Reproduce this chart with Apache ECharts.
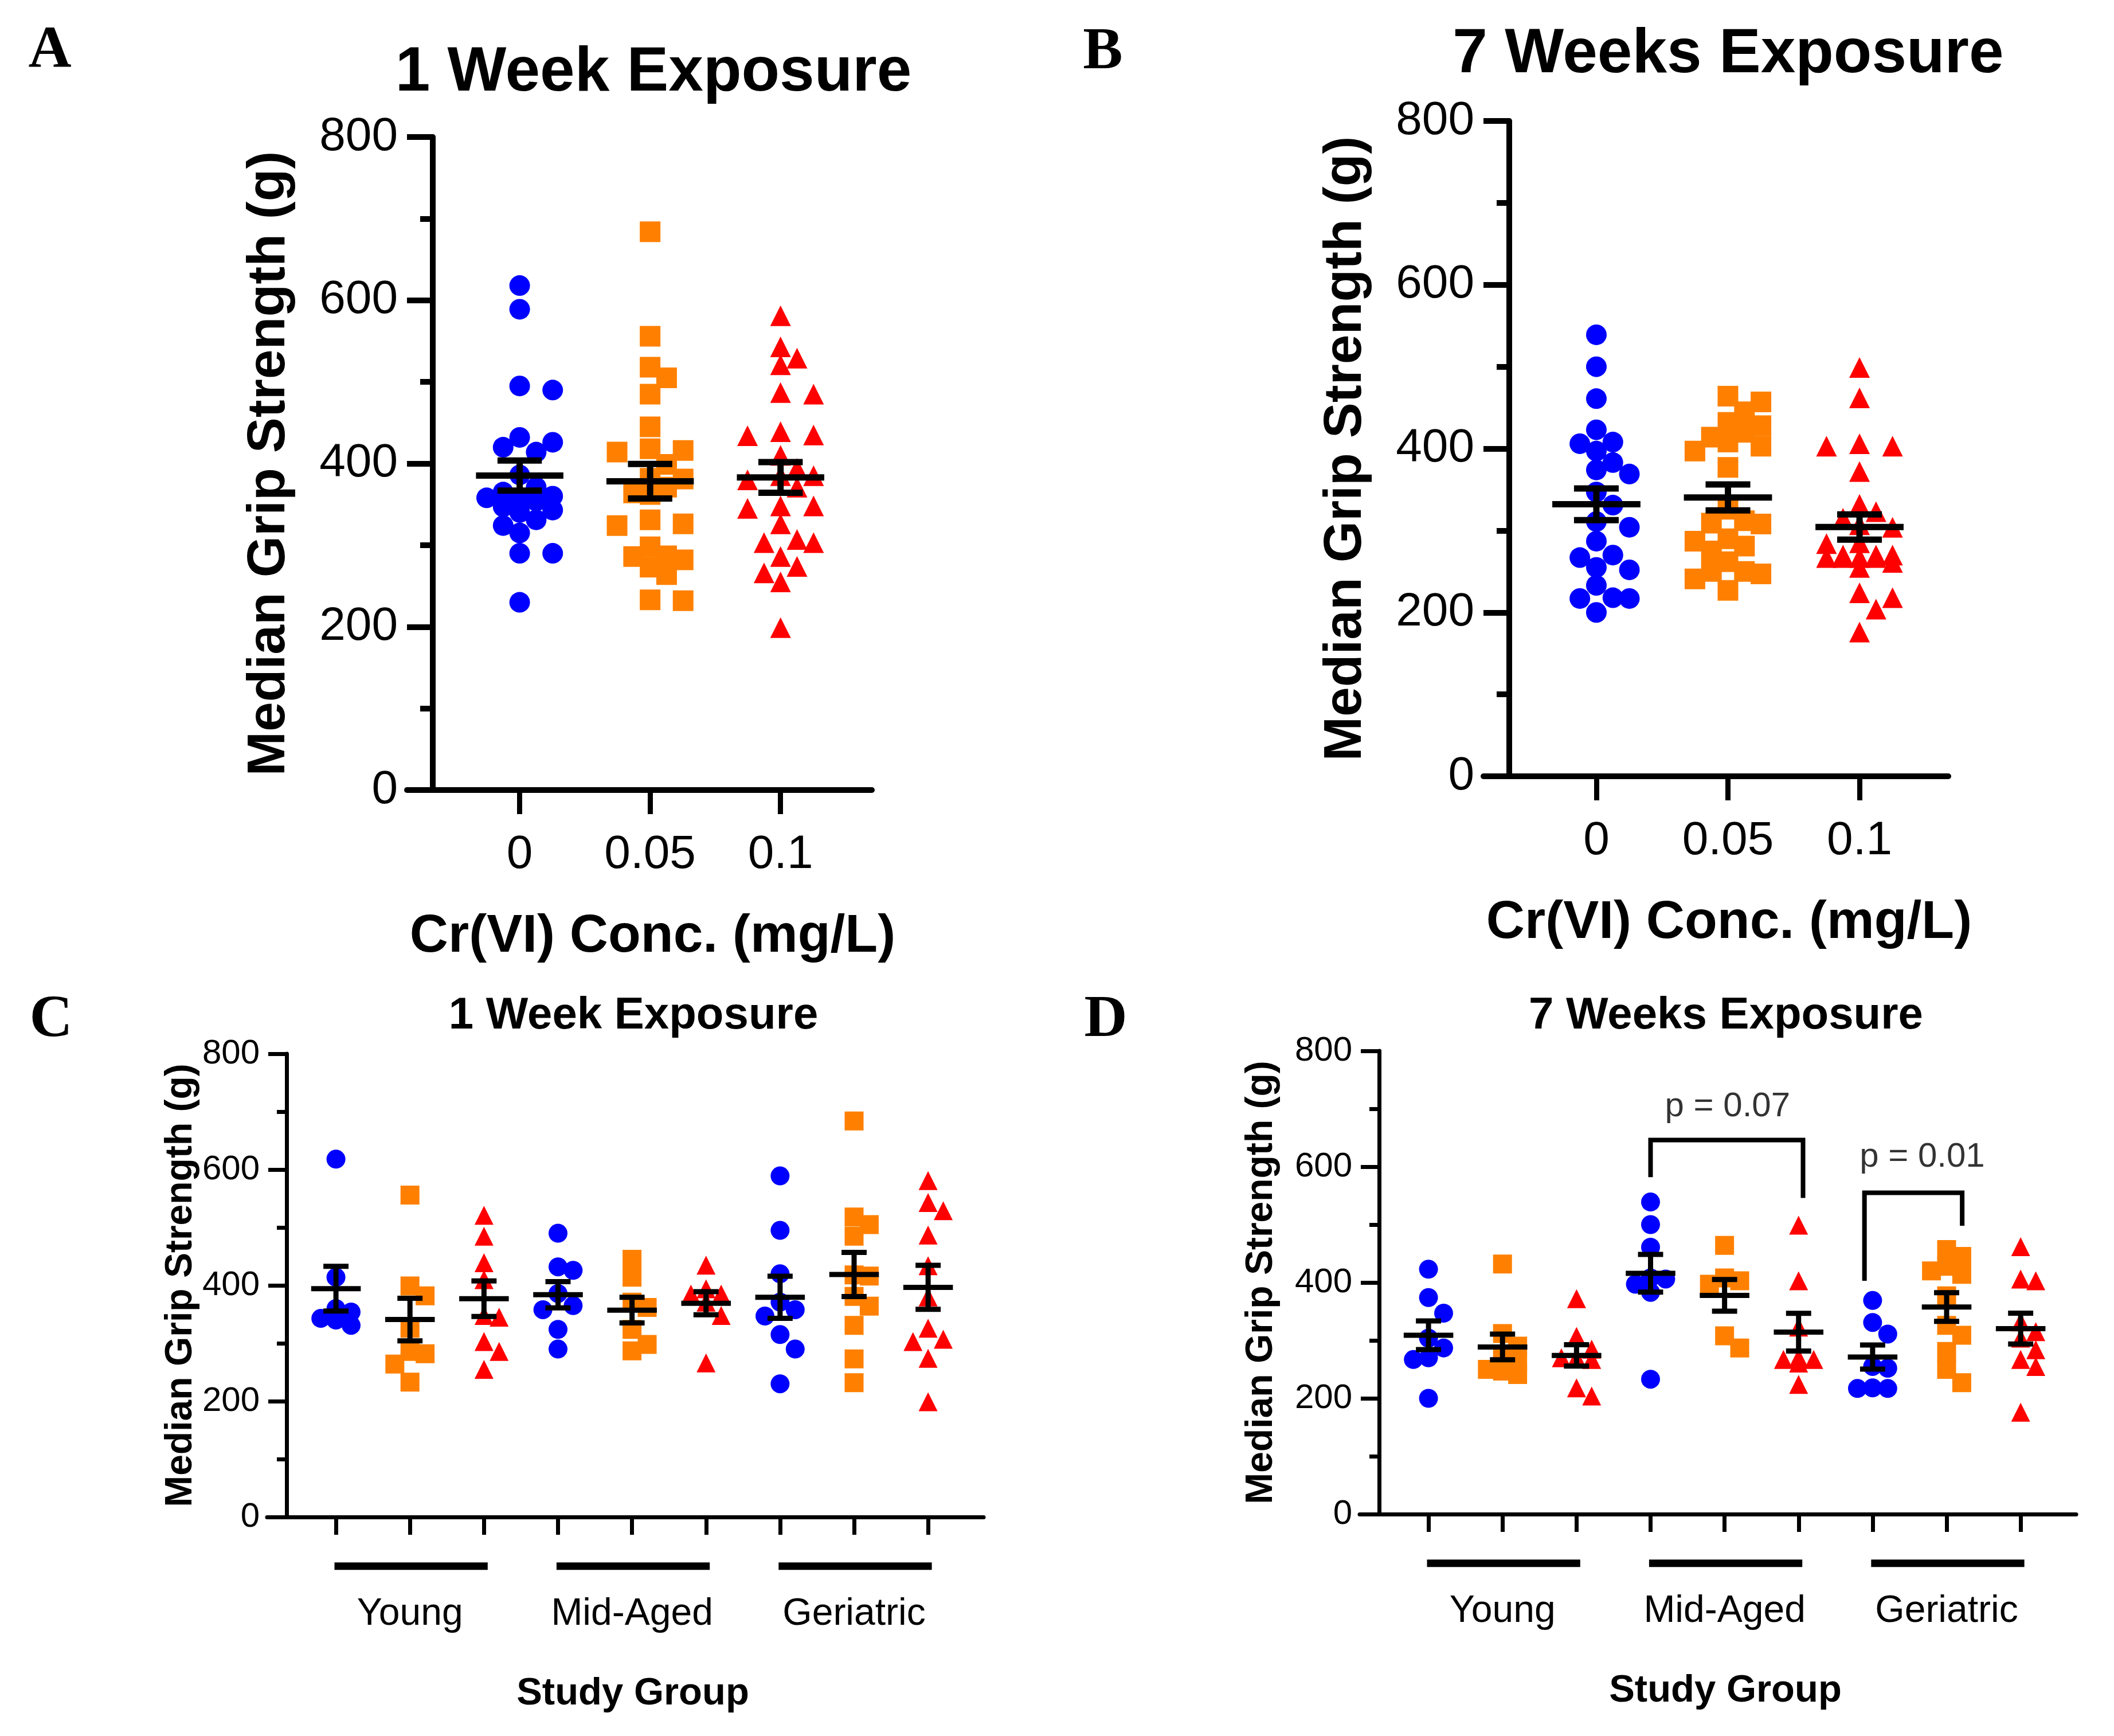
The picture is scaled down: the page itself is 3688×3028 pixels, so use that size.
<!DOCTYPE html>
<html>
<head>
<meta charset="utf-8">
<script src="https://cdn.jsdelivr.net/npm/echarts@6/dist/echarts.min.js"></script>
<style>
  html, body { margin: 0; padding: 0; background: #fff; }
  #chart { width: 3688px; height: 3028px; }
</style>
</head>
<body>
<div id="chart"></div>
<script>
'use strict';

// ---- data ----
const doseLabels = ['0', '0.05', '0.1'];
const ageGroups = ['Young', 'Mid-Aged', 'Geriatric'];

// grip strength (g), one list per Cr(VI) dose: [0, 0.05, 0.1]
const week1Young = [
    [618, 414, 360, 354, 343, 340, 331],
    [556, 399, 382, 326, 286, 282, 264, 233],
    [521, 485, 439, 410, 348, 345, 303, 286, 255]
];
const week1Mid = [
    [490, 432, 426, 386, 365, 358, 324, 290],
    [445, 414, 371, 362, 324, 298, 287],
    [435, 394, 385, 385, 371, 348, 266]
];
const week1Geri = [
    [589, 495, 420, 371, 358, 347, 315, 290, 230],
    [684, 518, 505, 485, 416, 418, 381, 364, 331, 273, 232],
    [581, 543, 529, 487, 434, 380, 326, 307, 303, 274, 199]
];
const week7Young = [
    [423, 374, 347, 304, 287, 267, 270, 200],
    [432, 312, 290, 275, 262, 250, 247, 241],
    [372, 307, 285, 270, 270, 267, 218, 204]
];
const week7Mid = [
    [539, 500, 461, 408, 406, 397, 383, 233],
    [464, 408, 403, 397, 308, 287],
    [499, 403, 323, 267, 270, 261, 267, 224]
];
const week7Geri = [
    [369, 331, 311, 255, 252, 217, 218, 217],
    [457, 445, 428, 420, 414, 377, 326, 309, 281, 250, 227],
    [462, 406, 403, 332, 315, 304, 284, 267, 255, 176]
];

// panel D significance brackets (x = group slot, y = grip value)
const bracket07 = [[3.0, 582], [3.0, 646], [5.06, 646], [5.06, 546]];
const bracket01 = [[5.89, 403], [5.89, 555], [7.21, 555], [7.21, 498]];
const pLabels = [
    { name: 'p = 0.07', value: [4.04, 704] },
    { name: 'p = 0.01', value: [6.67, 616] }
];

// ---- styles ----
const FONT = '"Liberation Sans", Arial, sans-serif';
const doseColors = ['#0000FF', '#FF8000', '#FF0000'];
const doseSymbols = ['circle', 'rect', 'triangle'];

const panels = [
    { grid: { left: 710, top: 239, width: 811, height: 1139 }, xMin: -0.864, xMax: 2.70, yOffset: -45,
      big: true, title: '1 Week Exposure', letter: 'A' },
    { grid: { left: 2588, top: 211, width: 811, height: 1143 }, xMin: -0.858, xMax: 2.675, yOffset: -45,
      big: true, title: '7 Weeks Exposure', letter: 'B' },
    { grid: { left: 466, top: 1838, width: 1250, height: 808 }, xMin: -0.93, xMax: 8.75, yOffset: -34,
      big: false, title: '1 Week Exposure', letter: 'C', yNameGap: 148 },
    { grid: { left: 2372, top: 1833, width: 1250, height: 808 }, xMin: -0.93, xMax: 8.75, yOffset: -34,
      big: false, title: '7 Weeks Exposure', letter: 'D', yNameGap: 172 }
];

function meanSem(v) {
    const n = v.length;
    const m = v.reduce((a, b) => a + b, 0) / n;
    const sd = Math.sqrt(v.reduce((a, b) => a + (b - m) * (b - m), 0) / (n - 1));
    return [m, sd / Math.sqrt(n)];
}

// beeswarm with a capped width: points spread sideways, overlapping once the column is full
function swarm(values, center, pxX, pxY, size, maxSteps) {
    const order = values.map((v, i) => i).sort((a, b) => values[b] - values[a]);
    const placed = [];
    const out = new Array(values.length);
    const step = size * 0.8;
    const cands = [0];
    for (let k = 1; k <= maxSteps; k++) cands.push(k * step, -k * step);
    order.forEach(i => {
        const py = values[i] * pxY;
        let best = 0, bestDist = -1;
        for (const c of cands) {
            const d = placed.reduce((mn, p) => Math.min(mn, Math.hypot(p[0] - c, p[1] - py)), Infinity);
            if (d >= size * 0.85) { best = c; bestDist = d; break; }
            if (d > bestDist + 0.5) { best = c; bestDist = d; }
        }
        placed.push([best, py]);
        out[i] = [center + best / pxX, values[i]];
    });
    return out;
}

function errorBarRender(halfMean, halfCap, lw) {
    return function (params, api) {
        const x = api.value(0), m = api.value(1), s = api.value(2);
        const l = api.coord([x - halfMean, m]), r = api.coord([x + halfMean, m]);
        const top = api.coord([x, m + s]), bot = api.coord([x, m - s]);
        const cl = api.coord([x - halfCap, m])[0], cr = api.coord([x + halfCap, m])[0];
        const style = { stroke: '#000', lineWidth: lw };
        return {
            type: 'group',
            children: [
                { type: 'line', shape: { x1: l[0], y1: l[1], x2: r[0], y2: r[1] }, style },
                { type: 'line', shape: { x1: top[0], y1: top[1], x2: bot[0], y2: bot[1] }, style },
                { type: 'line', shape: { x1: cl, y1: top[1], x2: cr, y2: top[1] }, style },
                { type: 'line', shape: { x1: cl, y1: bot[1], x2: cr, y2: bot[1] }, style }
            ]
        };
    };
}

const grids = [], xAxes = [], yAxes = [], series = [], graphics = [];

panels.forEach((p, gi) => {
    grids.push(p.grid);
    const lw = p.big ? 10 : 7;
    const pxX = p.grid.width / (p.xMax - p.xMin);
    const pxY = p.grid.height / 800;
    const symSize = p.big ? 36 : 33;

    yAxes.push({
        type: 'value', gridIndex: gi, min: 0, max: 800, interval: 200, offset: p.yOffset,
        axisLine: { show: true, onZero: false, lineStyle: { color: '#000', width: lw } },
        axisTick: { show: true, length: p.big ? 45 : 32, lineStyle: { color: '#000', width: lw } },
        minorTick: { show: true, splitNumber: 2, length: p.big ? 22 : 17, lineStyle: { color: '#000', width: lw } },
        splitLine: { show: false },
        axisLabel: { color: '#000', fontFamily: FONT, fontSize: p.big ? 82 : 60, margin: p.big ? 61 : 47 },
        name: 'Median Grip Strength (g)', nameLocation: 'middle',
        nameGap: p.big ? 238 : p.yNameGap,
        nameTextStyle: { color: '#000', fontFamily: FONT, fontWeight: 'bold', fontSize: p.big ? 93 : 66 }
    });

    const ticks = p.big ? [0, 1, 2] : [0, 1, 2, 3, 4, 5, 6, 7, 8];
    xAxes.push({
        type: 'value', gridIndex: gi, min: p.xMin, max: p.xMax, position: 'bottom',
        axisLine: { show: true, onZero: false, lineStyle: { color: '#000', width: lw } },
        axisTick: { show: true, customValues: ticks, length: p.big ? 42 : 31, lineStyle: { color: '#000', width: p.big ? 9 : 7 } },
        splitLine: { show: false },
        axisLabel: p.big
            ? { customValues: ticks, formatter: v => doseLabels[Math.round(v)], color: '#000', fontFamily: FONT, fontSize: 82, margin: 72 }
            : { show: false },
        name: p.big ? 'Cr(VI) Conc. (mg/L)' : 'Study Group', nameLocation: 'middle',
        nameGap: p.big ? 210 : 275,
        nameTextStyle: {
            color: '#000', fontFamily: FONT, fontWeight: 'bold', fontSize: p.big ? 93 : 67,
            padding: p.big ? [0, 0, 0, 46] : [0, 0, 0, 26]
        }
    });

    const week = gi % 2 === 0 ? [week1Young, week1Mid, week1Geri] : [week7Young, week7Mid, week7Geri];
    const mainX = xAxes.length - 1;

    // groups: big panels pool all ages per dose, small panels split age x dose
    const groups = [];
    if (p.big) {
        doseLabels.forEach((d, di) => groups.push({ x: di, dose: di, values: week[0][di].concat(week[1][di], week[2][di]) }));
    } else {
        ageGroups.forEach((a, ai) => doseLabels.forEach((d, di) => groups.push({ x: ai * 3 + di, dose: di, values: week[ai][di] })));
    }

    groups.forEach(g => {
        series.push({
            type: 'scatter', xAxisIndex: mainX, yAxisIndex: gi,
            symbol: doseSymbols[g.dose], symbolSize: symSize,
            itemStyle: { color: doseColors[g.dose], opacity: 1 },
            data: swarm(g.values, g.x, pxX, pxY, symSize, p.big ? 2 : 1),
            silent: true, z: 2
        });
    });

    series.push({
        type: 'custom', xAxisIndex: mainX, yAxisIndex: gi, z: 5, silent: true, clip: false,
        renderItem: errorBarRender(0.335, 0.17, p.big ? 11 : 9),
        encode: { x: 0, y: 1 },
        data: groups.map(g => [g.x].concat(meanSem(g.values)))
    });

    if (!p.big) {
        // age-group labels on a second, line-less axis
        xAxes.push({
            type: 'value', gridIndex: gi, min: p.xMin, max: p.xMax, position: 'bottom',
            axisLine: { show: false }, axisTick: { show: false }, splitLine: { show: false },
            axisLabel: { customValues: [1, 4, 7], formatter: v => ageGroups[Math.round((v - 1) / 3)],
                         color: '#000', fontFamily: FONT, fontSize: 66, margin: 137 }
        });
        // underline beneath each age group
        ageGroups.forEach((a, ai) => {
            series.push({
                type: 'line', xAxisIndex: mainX, yAxisIndex: gi, clip: false, silent: true,
                showSymbol: false, symbol: 'none',
                lineStyle: { color: '#000', width: 13 },
                data: [[ai * 3 - 0.02, -85], [ai * 3 + 2.05, -85]]
            });
        });
    }

    if (gi === 3) {
        [bracket07, bracket01].forEach(b => series.push({
            type: 'line', xAxisIndex: mainX, yAxisIndex: gi, silent: true, clip: false,
            showSymbol: false, symbol: 'none',
            lineStyle: { color: '#000', width: 8, join: 'miter' },
            data: b
        }));
        series.push({
            type: 'scatter', xAxisIndex: mainX, yAxisIndex: gi, silent: true,
            symbolSize: 1, itemStyle: { color: 'rgba(0,0,0,0)' },
            label: { show: true, position: 'inside', formatter: q => q.name, color: '#000', fontFamily: FONT, fontSize: 60 },
            data: pLabels
        });
    }
});

// panel letters and titles
const titlePos = [[1140, 128], [3015, 96], [1105, 1772], [3011, 1772]];
const letterPos = [[87, 90], [1924, 92], [89, 1780], [1929, 1780]];
panels.forEach((p, i) => {
    graphics.push({
        type: 'text', x: letterPos[i][0], y: letterPos[i][1],
        style: { text: p.letter, font: 'bold 104px "Liberation Serif", serif', fill: '#000', textAlign: 'center', textVerticalAlign: 'middle' }
    });
    graphics.push({
        type: 'text', x: titlePos[i][0], y: titlePos[i][1],
        style: { text: p.title, font: 'bold ' + (p.big ? 109 : 78) + 'px ' + FONT, fill: '#000', textAlign: 'center', textVerticalAlign: 'middle' }
    });
});

const chart = echarts.init(document.getElementById('chart'));
chart.setOption({
    animation: false,
    backgroundColor: '#fff',
    grid: grids,
    xAxis: xAxes,
    yAxis: yAxes,
    series: series,
    graphic: graphics
});
</script>
</body>
</html>
